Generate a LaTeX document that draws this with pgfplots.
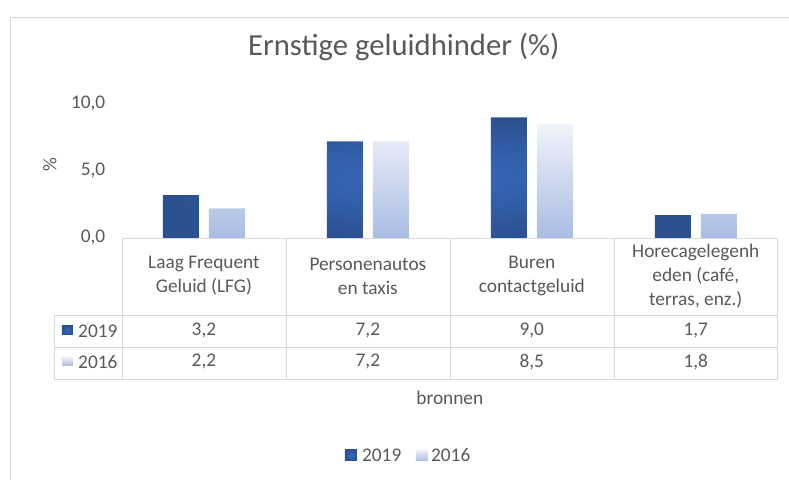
\documentclass[border=0pt]{standalone}
\usepackage{pgfplots}
\pgfplotsset{compat=1.18}
\usepackage{fontspec}
\setmainfont{Carlito}
\definecolor{txt}{HTML}{595959}
\definecolor{grid}{HTML}{D9D9D9}
\definecolor{dkin}{HTML}{3A6BC0}
\definecolor{dkout}{HTML}{2B5191}
\definecolor{lttop}{HTML}{F0F3FA}
\definecolor{ltbot}{HTML}{A9BCE3}
\begin{document}
\begin{tikzpicture}
\begin{axis}[
  at={(0,0)}, anchor=south west,
  scale only axis, width=492pt, height=100.5pt,
  xmin=0, xmax=4, ymin=0, ymax=10,
  ytick={0,5,10}, xtick=\empty,
  axis line style={draw=none}, major tick length=0pt,
  yticklabel style={font=\fontsize{14.5}{16}\selectfont, text=txt, xshift=-9pt},
  /pgf/number format/.cd, fixed, fixed zerofill, precision=1, use comma, assume math mode=true,
  /pgfplots/.cd,
  ybar=7.5pt, bar width=27pt, clip=false,
]
\addplot[draw=none, inner color=dkin, outer color=dkout] coordinates {(0.5,3.2) (1.5,7.2) (2.5,9.0) (3.5,1.7)};
\addplot[draw=none, top color=lttop, bottom color=ltbot] coordinates {(0.5,2.2) (1.5,7.2) (2.5,8.5) (3.5,1.8)};
\end{axis}
\begin{scope}[x=0.75pt, y=-0.75pt, shift={(-91.5pt,178.5pt)}]
  \tikzset{t/.style={text=txt, inner sep=0pt, font=\fontsize{14.5}{18}\selectfont}}
  % frame
  \draw[grid] (10,17) -- (789,17);
  \draw[grid] (10,17) -- (10,480);
  \path[use as bounding box] (0,0) rectangle (789,480);
  % title
  \node[text=txt, font=\fontsize{23}{26}\selectfont] at (404,47) {Ernstige geluidhinder (\%)};
  \node[t, rotate=90] at (50,165) {\%};
  % table grid
  \draw[grid] (122,238) -- (778,238);
  \foreach \yy in {315,347,379} \draw[grid] (54,\yy) -- (778,\yy);
  \foreach \xx in {122,286,450,614,778} \draw[grid] (\xx,238) -- (\xx,379);
  \draw[grid] (54,315) -- (54,379);
  % header
  \foreach \xx/\tt in {204/{Laag Frequent\\Geluid (LFG)},368/{Personenautos\\en taxis},532/{Buren\\contactgeluid},696/{Horecagelegenh\\eden (café,\\terras, enz.)}}
    \node[t, align=center] at (\xx,276) {\tt};
  % rows
  \fill[inner color=dkin, outer color=dkout] (62,326) rectangle (73,335);
  \node[t, anchor=west] at (78,331) {2019};
  \fill[top color=lttop, bottom color=ltbot] (62,357) rectangle (73,366);
  \node[t, anchor=west] at (78,362) {2016};
  \foreach \xx/\a/\b in {204/{3,2}/{2,2},368/{7,2}/{7,2},532/{9,0}/{8,5},696/{1,7}/{1,8}}{
    \node[t] at (\xx,331) {\a};
    \node[t] at (\xx,362) {\b};
  }
  \node[t] at (450,398) {bronnen};
  % legend
  \fill[inner color=dkin, outer color=dkout] (345,450) rectangle (357,461);
  \node[t, anchor=west] at (362,455) {2019};
  \fill[top color=lttop, bottom color=ltbot] (416,450) rectangle (428,461);
  \node[t, anchor=west] at (431,455) {2016};
\end{scope}
\end{tikzpicture}
\end{document}
